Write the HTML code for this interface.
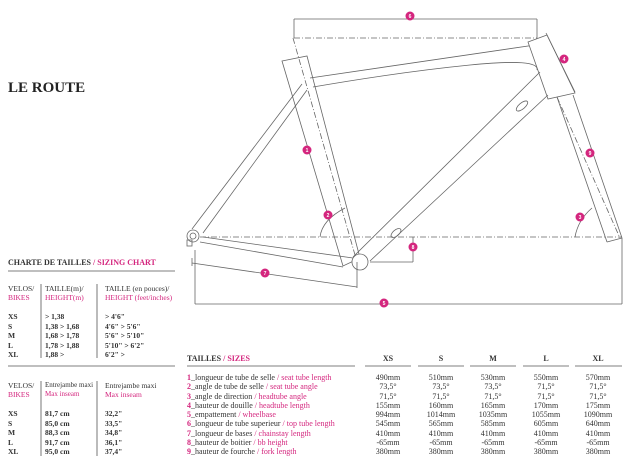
<!DOCTYPE html>
<html><head><meta charset="utf-8"><style>
body{margin:0;width:640px;height:470px;background:#fff;position:relative;overflow:hidden;font-family:"Liberation Serif",serif;color:#333}
.t{position:absolute;white-space:nowrap;font-size:8px;line-height:9px}
.s{font-size:7.5px}
.p{color:#d4267e}
.b{font-weight:bold}
.c{text-align:center;width:50px}
</style></head><body>
<svg width="640" height="470" style="position:absolute;left:0;top:0">
<g stroke="#666" stroke-width="0.8" fill="none">
<polygon points="282,61 307,56 360,258 343,266" fill="#fff"/>
<line x1="293" y1="38" x2="357" y2="262" stroke-dasharray="6,2,1,2"/>
<path d="M310,78 L535,45 M313,87 Q400,72 470,65 T537,70"/>
<polygon points="528,42 547,35 575,93 548,99" fill="#fff"/>
<path d="M540,72 L353,257 M548,95 L370,261"/>
<ellipse cx="522" cy="106" rx="7" ry="3" transform="rotate(-40 522 106)"/>
<ellipse cx="396" cy="233" rx="6" ry="3" transform="rotate(-40 396 233)"/>
<path d="M557,97 L607,242 M573,95 L622,238 M607,242 L622,238"/>
<line x1="557" y1="97" x2="620" y2="238" stroke-dasharray="6,2,1,2"/>
<path d="M302,84 L192,229 M307,90 L203,233"/>
<path d="M203,237 L353,258 M200,242 L343,267"/>
<circle cx="360" cy="262" r="8" fill="#fff"/>
<circle cx="193" cy="236" r="6"/>
<circle cx="193" cy="236" r="3"/>
<rect x="187" y="240" width="5" height="6"/>
<line x1="200" y1="237" x2="622" y2="237" stroke-dasharray="6,2,1,2"/>
<line x1="294" y1="38" x2="537" y2="38" stroke-dasharray="6,2,1,2"/>
<path d="M294,19 L537,19 M294,19 L294,38 M537,19 L537,38"/>
<path d="M195,304 L622,304 M195,250 L195,304 M622,238 L622,304"/>
<path d="M192,263 L357,287 M192,258 L192,266 M357,262 L357,288"/>
<path d="M413,237 L413,262 M370,262 L413,262"/>
<path d="M546,33 L575,92"/>
<path d="M320,237 Q322,220 345,208 M575,237 Q578,220 592,208"/>
</g>
<g fill="#d4267e" font-family="Liberation Sans" font-size="5" font-weight="bold" text-anchor="middle">
<circle cx="410" cy="16" r="4.5"/><circle cx="384" cy="303" r="4.5"/><circle cx="265" cy="273" r="4.5"/>
<circle cx="413" cy="247" r="4.5"/><circle cx="307" cy="150" r="4.5"/><circle cx="328" cy="215" r="4.5"/>
<circle cx="580" cy="217" r="4.5"/><circle cx="564" cy="59" r="4.5"/><circle cx="590" cy="153" r="4.5"/>
<g fill="#fff"><text x="410" y="18">6</text><text x="384" y="305">5</text><text x="265" y="275">7</text><text x="413" y="249">8</text><text x="307" y="152">1</text><text x="328" y="217">2</text><text x="580" y="219">3</text><text x="564" y="61">4</text><text x="590" y="155">9</text></g>
</g>
<g stroke="#555" stroke-width="0.8">
<line x1="8" y1="271" x2="175" y2="271"/><line x1="8" y1="366" x2="175" y2="366"/>
<line x1="41" y1="284" x2="41" y2="358"/><line x1="97" y1="284" x2="97" y2="358"/>
<line x1="41" y1="381" x2="41" y2="456"/><line x1="97" y1="381" x2="97" y2="456"/>
<line x1="187" y1="366" x2="355" y2="366"/>
<line x1="365" y1="366" x2="411" y2="366"/><line x1="418" y1="366" x2="464" y2="366"/><line x1="470" y1="366" x2="516" y2="366"/><line x1="523" y1="366" x2="569" y2="366"/><line x1="575" y1="366" x2="622" y2="366"/>
</g>
</svg>
<div class="t b" style="left:8px;top:80px;font-size:15px;line-height:16px;color:#222">LE ROUTE</div>
<div class="t b" style="left:8px;top:258px">CHARTE DE TAILLES <span class="p">/ SIZING CHART</span></div>
<div class="t s" style="left:8px;top:284px">VELOS/<br><span class="p">BIKES</span></div>
<div class="t s" style="left:45px;top:284px">TAILLE(m)/<br><span class="p">HEIGHT(m)</span></div>
<div class="t s" style="left:105px;top:284px">TAILLE (en pouces)/<br><span class="p">HEIGHT (feet/inches)</span></div>
<div class="t b s" style="left:8px;top:312px;line-height:9.5px">XS<br>S<br>M<br>L<br>XL</div>
<div class="t b s" style="left:45px;top:312px;line-height:9.5px">&gt; 1,38<br>1,38 &gt; 1,68<br>1,68 &gt; 1,78<br>1,78 &gt; 1,88<br>1,88 &gt;</div>
<div class="t b s" style="left:105px;top:312px;line-height:9.5px">&gt; 4'6"<br>4'6" &gt; 5'6"<br>5'6" &gt; 5'10"<br>5'10" &gt; 6'2"<br>6'2" &gt;</div>
<div class="t s" style="left:8px;top:381px">VELOS/<br><span class="p">BIKES</span></div>
<div class="t s" style="left:45px;top:381px;font-size:7px">Entrejambe maxi<br><span class="p">Max inseam</span></div>
<div class="t s" style="left:105px;top:381px">Entrejambe maxi<br><span class="p">Max inseam</span></div>
<div class="t b s" style="left:8px;top:409px;line-height:9.5px">XS<br>S<br>M<br>L<br>XL</div>
<div class="t b s" style="left:45px;top:409px;line-height:9.5px">81,7 cm<br>85,0 cm<br>88,3 cm<br>91,7 cm<br>95,0 cm</div>
<div class="t b s" style="left:105px;top:409px;line-height:9.5px">32,2"<br>33,5"<br>34,8"<br>36,1"<br>37,4"</div>
<div class="t b" style="left:187px;top:354px">TAILLES <span class="p">/ SIZES</span></div>
<div class="t b c" style="left:363px;top:354px">XS</div>
<div class="t b c" style="left:416px;top:354px">S</div>
<div class="t b c" style="left:468px;top:354px">M</div>
<div class="t b c" style="left:521px;top:354px">L</div>
<div class="t b c" style="left:573px;top:354px">XL</div>
<div class="t" style="left:187px;top:373px;line-height:9.3px">
<span class="p b">1</span>_longueur de tube de selle <span class="p">/ seat tube length</span><br>
<span class="p b">2</span>_angle de tube de selle <span class="p">/ seat tube angle</span><br>
<span class="p b">3</span>_angle de direction <span class="p">/ headtube angle</span><br>
<span class="p b">4</span>_hauteur de douille <span class="p">/ headtube length</span><br>
<span class="p b">5</span>_empattement <span class="p">/ wheelbase</span><br>
<span class="p b">6</span>_longueur de tube superieur <span class="p">/ top tube length</span><br>
<span class="p b">7</span>_longueur de bases <span class="p">/ chainstay length</span><br>
<span class="p b">8</span>_hauteur de boitier <span class="p">/ bb height</span><br>
<span class="p b">9</span>_hauteur de fourche <span class="p">/ fork length</span></div>
<div class="t c" style="left:363px;top:373px;line-height:9.3px">490mm<br>73,5°<br>71,5°<br>155mm<br>994mm<br>545mm<br>410mm<br>-65mm<br>380mm</div>
<div class="t c" style="left:416px;top:373px;line-height:9.3px">510mm<br>73,5°<br>71,5°<br>160mm<br>1014mm<br>565mm<br>410mm<br>-65mm<br>380mm</div>
<div class="t c" style="left:468px;top:373px;line-height:9.3px">530mm<br>73,5°<br>71,5°<br>165mm<br>1035mm<br>585mm<br>410mm<br>-65mm<br>380mm</div>
<div class="t c" style="left:521px;top:373px;line-height:9.3px">550mm<br>71,5°<br>71,5°<br>170mm<br>1055mm<br>605mm<br>410mm<br>-65mm<br>380mm</div>
<div class="t c" style="left:573px;top:373px;line-height:9.3px">570mm<br>71,5°<br>71,5°<br>175mm<br>1090mm<br>640mm<br>410mm<br>-65mm<br>380mm</div>
</body></html>
